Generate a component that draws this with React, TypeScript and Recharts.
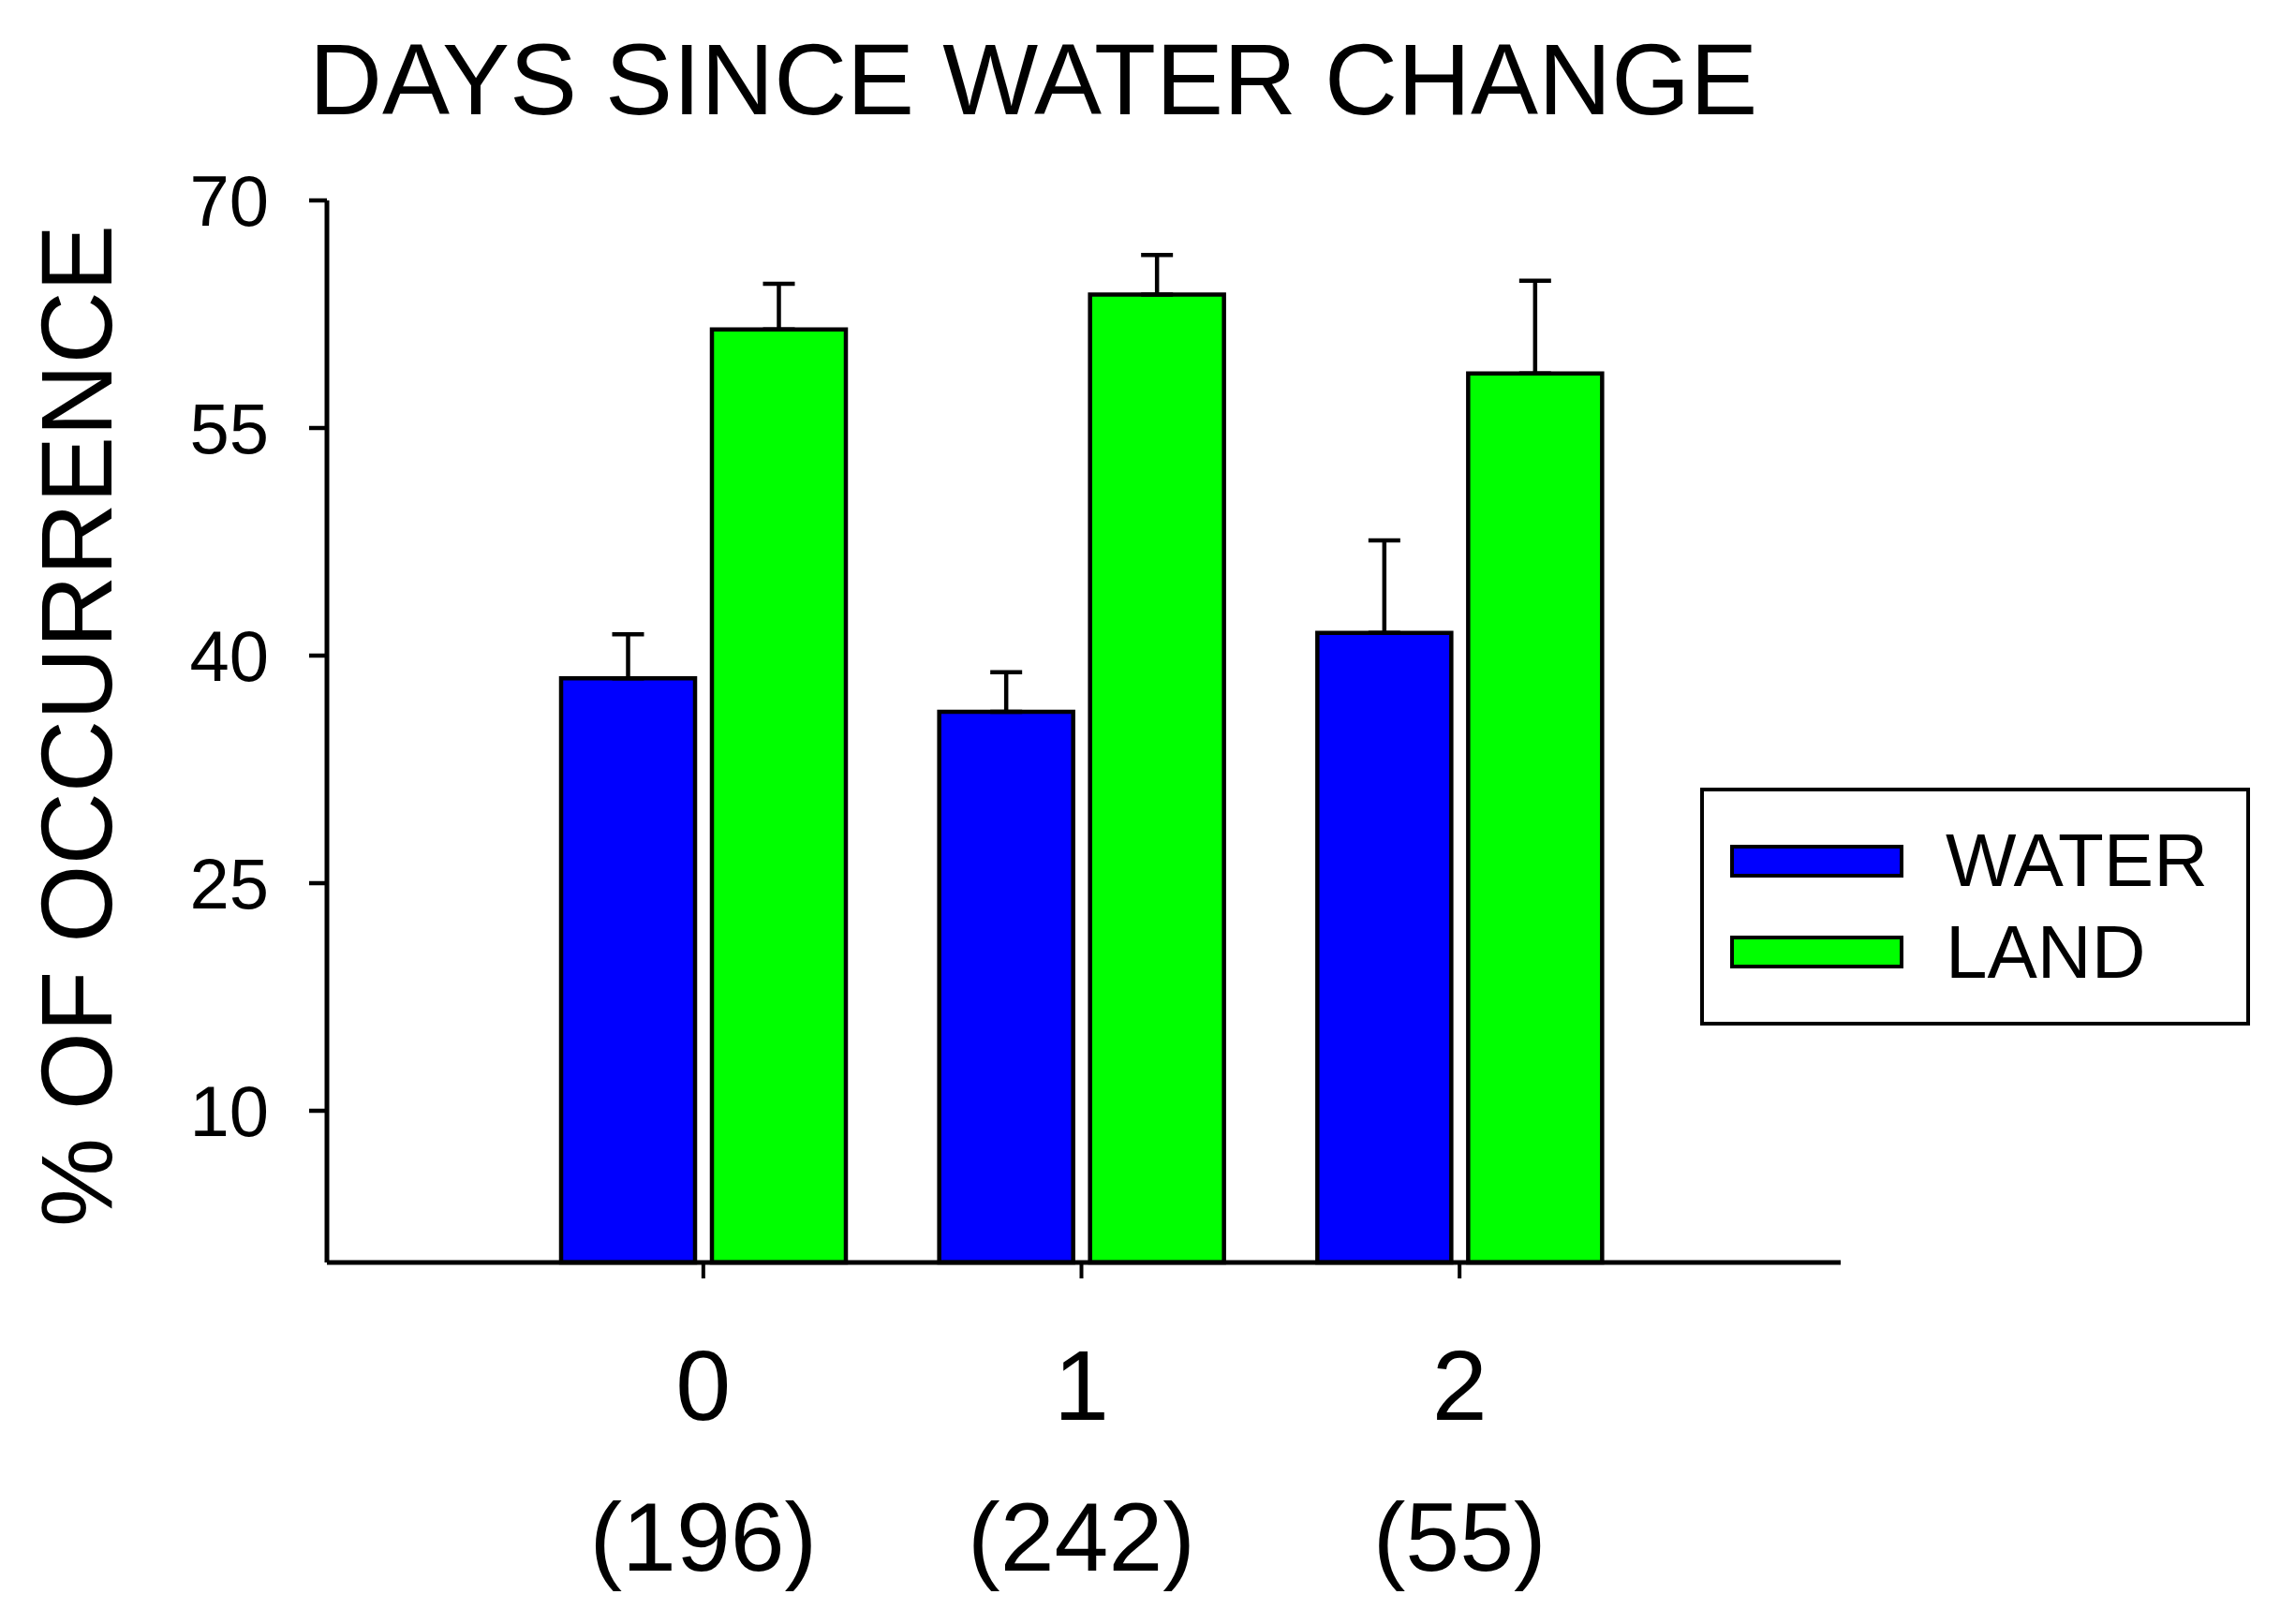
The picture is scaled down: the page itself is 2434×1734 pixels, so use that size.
import React from 'react';
import { BarChart, Bar, XAxis, YAxis, ErrorBar, Legend } from 'recharts';

const FONT = '"Liberation Sans", Arial, sans-serif';

const days = ['0', '1', '2'];
const sampleSizes = ['(196)', '(242)', '(55)'];
const seriesNames = ['WATER', 'LAND'];
const waterPct = [38.5, 36.3, 41.5];
const waterErr = [2.9, 2.6, 6.1];
const landPct = [61.5, 63.8, 58.6];
const landErr = [3.0, 2.6, 6.1];
const yTicks = [10, 25, 40, 55, 70];

const data = days.map((day, i) => ({
  day,
  n: sampleSizes[i],
  water: waterPct[i],
  waterErr: [0, waterErr[i]],
  land: landPct[i],
  landErr: [0, landErr[i]],
}));

const DayTick = (props: any) => {
  const { x, y, payload, index } = props;
  return (
    <g>
      <text x={x} y={y + 151} textAnchor="middle" fontSize={106} fontFamily={FONT} fill="#000">
        {payload.value}
      </text>
      <text x={x} y={y + 312} textAnchor="middle" fontSize={104} fontFamily={FONT} fill="#000">
        {data[index] ? data[index].n : ''}
      </text>
    </g>
  );
};

const YTitle = (props: any) => {
  const vb = props.viewBox || { x: 0, y: 214, width: 349, height: 1134 };
  const cx = vb.x + 119;
  const cy = vb.y + vb.height / 2 - 6;
  return (
    <text
      x={cx}
      y={cy}
      transform={`rotate(-90, ${cx}, ${cy})`}
      textAnchor="middle"
      fontSize={107}
      fontFamily={FONT}
      fill="#000"
    >
      % OF OCCURRENCE
    </text>
  );
};

const LegendBox = (props: any) => {
  // keep the series order (recharts sorts legend items by name)
  const items = [...(props.payload || [])].sort(
    (a: any, b: any) => seriesNames.indexOf(a.value) - seriesNames.indexOf(b.value)
  );
  return (
    <div
      style={{
        position: 'relative',
        width: 587,
        height: 254,
        boxSizing: 'border-box',
        border: '4.5px solid #000',
        background: '#fff',
        fontFamily: FONT,
      }}
    >
      {items.map((it: any, i: number) => (
        <React.Fragment key={it.value}>
          <div
            style={{
              position: 'absolute',
              left: 28,
              top: 57 + i * 97,
              width: 185,
              height: 35,
              boxSizing: 'border-box',
              border: '4px solid #000',
              background: it.color,
            }}
          />
          <div
            style={{
              position: 'absolute',
              left: 258,
              top: 34 + i * 98,
              fontSize: 80,
              lineHeight: '80px',
              color: '#000',
              whiteSpace: 'nowrap',
            }}
          >
            {it.value}
          </div>
        </React.Fragment>
      ))}
    </div>
  );
};

export default function App() {
  return (
    <div style={{ position: 'absolute', left: 0, top: 0, width: 2434, height: 1734, background: '#fff' }}>
      <div
        style={{
          position: 'absolute',
          left: 330,
          top: 31,
          fontSize: 108,
          lineHeight: '108px',
          fontFamily: FONT,
          color: '#000',
          whiteSpace: 'nowrap',
        }}
      >
        DAYS SINCE WATER CHANGE
      </div>
      <BarChart
        width={2434}
        height={1734}
        data={data}
        margin={{ top: 214, right: 469, bottom: 0, left: 0 }}
        barSize={143}
        barGap={18}
      >
        <XAxis
          dataKey="day"
          type="category"
          height={386}
          padding={{ left: 200, right: 205 }}
          axisLine={{ stroke: '#000', strokeWidth: 5 }}
          tickLine={{ stroke: '#000', strokeWidth: 4 }}
          tickSize={17}
          tickMargin={0}
          tick={<DayTick />}
          interval={0}
        />
        <YAxis
          type="number"
          domain={[0, 70]}
          ticks={yTicks}
          width={349}
          axisLine={{ stroke: '#000', strokeWidth: 5 }}
          tickLine={{ stroke: '#000', strokeWidth: 4.5 }}
          tickSize={19}
          tickMargin={43}
          tick={{ fontSize: 76, fontFamily: FONT, fill: '#000' }}
          label={<YTitle />}
        />
        <Legend
          layout="vertical"
          align="center"
          verticalAlign="middle"
          content={<LegendBox />}
          wrapperStyle={{ left: 1815, top: 841, width: 587, height: 254 }}
        />
        <Bar dataKey="water" name="WATER" fill="#0000FF" stroke="#000" strokeWidth={4.5} isAnimationActive={false}>
          <ErrorBar dataKey="waterErr" direction="y" width={17} stroke="#000" strokeWidth={4.5} />
        </Bar>
        <Bar dataKey="land" name="LAND" fill="#00FF00" stroke="#000" strokeWidth={4.5} isAnimationActive={false}>
          <ErrorBar dataKey="landErr" direction="y" width={17} stroke="#000" strokeWidth={4.5} />
        </Bar>
      </BarChart>
    </div>
  );
}
